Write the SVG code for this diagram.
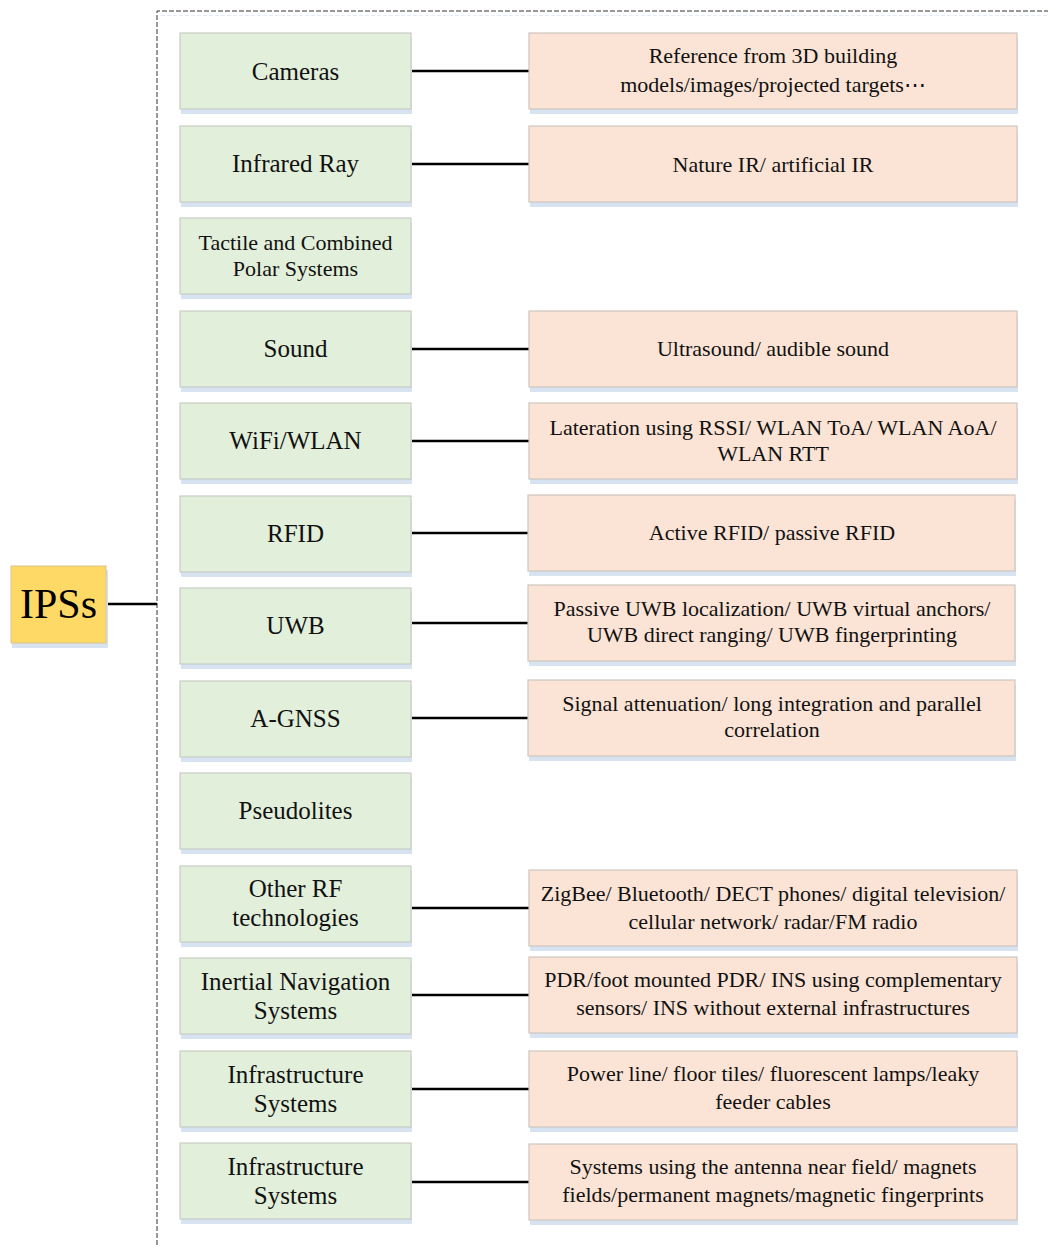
<svg xmlns="http://www.w3.org/2000/svg" width="1048" height="1245" viewBox="0 0 1048 1245">
<style>
.g{fill:#E2EFDA;stroke:#C9CCC6;stroke-width:1.2}
.p{fill:#FBE4D5;stroke:#CFC6C0;stroke-width:1.2}
.s{fill:#D8E3F2}
.t{font-family:"Liberation Serif","Times New Roman",serif;font-size:22px;fill:#111;text-anchor:middle}
.L{font-size:25px}
.c{stroke:#000;stroke-width:2.5;fill:none}
.f{stroke:#333;stroke-width:1;stroke-dasharray:5 2;fill:none}
</style>
<rect width="1048" height="1245" fill="#fff"/>
<g id="frame">
<path class="f" d="M157,1245 V11 H1048"/>
<path d="M161,15.5 H1048" stroke="#E3EBF5" stroke-width="1" stroke-dasharray="4 2"/>
</g>
<g id="connectors">
<line class="c" x1="106" y1="604" x2="157" y2="604"/>
<line class="c" x1="411" y1="71" x2="529" y2="71"/>
<line class="c" x1="411" y1="164" x2="529" y2="164"/>
<line class="c" x1="411" y1="349" x2="529" y2="349"/>
<line class="c" x1="411" y1="441" x2="529" y2="441"/>
<line class="c" x1="411" y1="533" x2="528" y2="533"/>
<line class="c" x1="411" y1="623" x2="528" y2="623"/>
<line class="c" x1="411" y1="718" x2="528" y2="718"/>
<line class="c" x1="411" y1="908" x2="529" y2="908"/>
<line class="c" x1="411" y1="995" x2="529" y2="995"/>
<line class="c" x1="411" y1="1089" x2="529" y2="1089"/>
<line class="c" x1="411" y1="1182" x2="529" y2="1182"/>
</g>
<g id="ipss">
<rect class="s" x="12" y="570" width="96" height="78"/>
<rect x="11" y="566" width="95" height="77" fill="#FFD966" stroke="#D9C48A" stroke-width="1"/>
<text x="58.5" y="618" style="font-family:'Liberation Serif','Times New Roman',serif;font-size:42px;text-anchor:middle;fill:#000">IPSs</text>
</g>
<g id="cameras"><rect class="s" x="181" y="38" width="231" height="76"/><rect class="g" x="180" y="33" width="231" height="76"/><text class="t L" x="295.5" y="80">Cameras</text></g>
<g id="infrared"><rect class="s" x="181" y="131" width="231" height="76"/><rect class="g" x="180" y="126" width="231" height="76"/><text class="t L" x="295.5" y="172">Infrared Ray</text></g>
<g id="tactile"><rect class="s" x="181" y="223" width="231" height="76"/><rect class="g" x="180" y="218" width="231" height="76"/><text class="t" x="295.5" y="250">Tactile and Combined</text><text class="t" x="295.5" y="276">Polar Systems</text></g>
<g id="sound"><rect class="s" x="181" y="316" width="231" height="76"/><rect class="g" x="180" y="311" width="231" height="76"/><text class="t L" x="295.5" y="357">Sound</text></g>
<g id="wifi"><rect class="s" x="181" y="408" width="231" height="76"/><rect class="g" x="180" y="403" width="231" height="76"/><text class="t L" x="295.5" y="449">WiFi/WLAN</text></g>
<g id="rfid"><rect class="s" x="181" y="501" width="231" height="76"/><rect class="g" x="180" y="496" width="231" height="76"/><text class="t L" x="295.5" y="542">RFID</text></g>
<g id="uwb"><rect class="s" x="181" y="593" width="231" height="76"/><rect class="g" x="180" y="588" width="231" height="76"/><text class="t L" x="295.5" y="634">UWB</text></g>
<g id="agnss"><rect class="s" x="181" y="686" width="231" height="76"/><rect class="g" x="180" y="681" width="231" height="76"/><text class="t L" x="295.5" y="727">A-GNSS</text></g>
<g id="pseudolites"><rect class="s" x="181" y="778" width="231" height="76"/><rect class="g" x="180" y="773" width="231" height="76"/><text class="t L" x="295.5" y="819">Pseudolites</text></g>
<g id="otherrf"><rect class="s" x="181" y="871" width="231" height="76"/><rect class="g" x="180" y="866" width="231" height="76"/><text class="t L" x="295.5" y="897">Other RF</text><text class="t L" x="295.5" y="926">technologies</text></g>
<g id="inertial"><rect class="s" x="181" y="963" width="231" height="76"/><rect class="g" x="180" y="958" width="231" height="76"/><text class="t L" x="295.5" y="990">Inertial Navigation</text><text class="t L" x="295.5" y="1019">Systems</text></g>
<g id="infra1"><rect class="s" x="181" y="1056" width="231" height="76"/><rect class="g" x="180" y="1051" width="231" height="76"/><text class="t L" x="295.5" y="1083">Infrastructure</text><text class="t L" x="295.5" y="1112">Systems</text></g>
<g id="infra2"><rect class="s" x="181" y="1148" width="231" height="76"/><rect class="g" x="180" y="1143" width="231" height="76"/><text class="t L" x="295.5" y="1175">Infrastructure</text><text class="t L" x="295.5" y="1204">Systems</text></g>
<g id="d-cameras"><rect class="s" x="530" y="38" width="488" height="76"/><rect class="p" x="529" y="33" width="488" height="76"/><text class="t" x="773" y="63">Reference from 3D building</text><text class="t" x="773" y="92">models/images/projected targets⋯</text></g>
<g id="d-infrared"><rect class="s" x="530" y="131" width="488" height="76"/><rect class="p" x="529" y="126" width="488" height="76"/><text class="t" x="773" y="172">Nature IR/ artificial IR</text></g>
<g id="d-sound"><rect class="s" x="530" y="316" width="488" height="76"/><rect class="p" x="529" y="311" width="488" height="76"/><text class="t" x="773" y="356">Ultrasound/ audible sound</text></g>
<g id="d-wifi"><rect class="s" x="530" y="408" width="488" height="76"/><rect class="p" x="529" y="403" width="488" height="76"/><text class="t" x="773" y="435">Lateration using RSSI/ WLAN ToA/ WLAN AoA/</text><text class="t" x="773" y="461">WLAN RTT</text></g>
<g id="d-rfid"><rect class="s" x="529" y="500" width="487" height="76"/><rect class="p" x="528" y="495" width="487" height="76"/><text class="t" x="772" y="540">Active RFID/ passive RFID</text></g>
<g id="d-uwb"><rect class="s" x="529" y="590" width="487" height="76"/><rect class="p" x="528" y="585" width="487" height="76"/><text class="t" x="772" y="616">Passive UWB localization/ UWB virtual anchors/</text><text class="t" x="772" y="642">UWB direct ranging/ UWB fingerprinting</text></g>
<g id="d-agnss"><rect class="s" x="529" y="685" width="487" height="76"/><rect class="p" x="528" y="680" width="487" height="76"/><text class="t" x="772" y="711">Signal attenuation/ long integration and parallel</text><text class="t" x="772" y="737">correlation</text></g>
<g id="d-otherrf"><rect class="s" x="530" y="875" width="488" height="76"/><rect class="p" x="529" y="870" width="488" height="76"/><text class="t" x="773" y="901">ZigBee/ Bluetooth/ DECT phones/ digital television/</text><text class="t" x="773" y="929">cellular network/ radar/FM radio</text></g>
<g id="d-inertial"><rect class="s" x="530" y="962" width="488" height="76"/><rect class="p" x="529" y="957" width="488" height="76"/><text class="t" x="773" y="987">PDR/foot mounted PDR/ INS using complementary</text><text class="t" x="773" y="1015">sensors/ INS without external infrastructures</text></g>
<g id="d-infra1"><rect class="s" x="530" y="1056" width="488" height="76"/><rect class="p" x="529" y="1051" width="488" height="76"/><text class="t" x="773" y="1081">Power line/ floor tiles/ fluorescent lamps/leaky</text><text class="t" x="773" y="1109">feeder cables</text></g>
<g id="d-infra2"><rect class="s" x="530" y="1149" width="488" height="76"/><rect class="p" x="529" y="1144" width="488" height="76"/><text class="t" x="773" y="1174">Systems using the antenna near field/ magnets</text><text class="t" x="773" y="1202">fields/permanent magnets/magnetic fingerprints</text></g>
</svg>
